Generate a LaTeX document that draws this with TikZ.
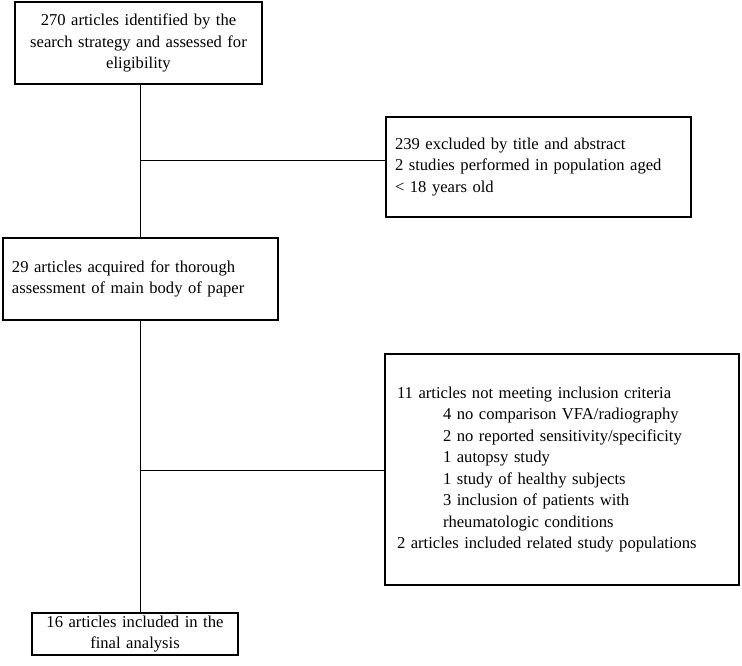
\documentclass[tikz,border=0pt]{standalone}
\usepackage{fontspec}
\setmainfont{Liberation Serif}
\begin{document}
\begin{tikzpicture}[x=1pt,y=-1pt,
    box/.style={draw,line width=1.4pt,inner xsep=8pt,inner ysep=0pt,
      font=\fontsize{16.6}{21.5}\selectfont},
    link/.style={draw,line width=0.8pt}]
  \useasboundingbox (0,0) rectangle (742,666);
  \node[box,text width=231pt,minimum height=82pt,align=center] (found) at (138.5,43)
    {270 articles identified by the\\ search strategy and assessed for\\ eligibility};
  \node[box,text width=287pt,minimum height=100pt,align=left,inner xsep=9pt] (excl1) at (538.5,167)
    {239 excluded by title and abstract\\ 2 studies performed in population aged\\ \textless{} 18 years old};
  \node[box,text width=257pt,minimum height=82pt,align=left,inner xsep=9pt] (acq) at (140.5,279)
    {29 articles acquired for thorough\\ assessment of main body of paper};
  \node[box,text width=330pt,minimum height=231pt,align=left,inner xsep=12pt] (excl2) at (562,469.5)
    {11 articles not meeting inclusion criteria\\
     \hspace*{46pt}4 no comparison VFA/radiography\\
     \hspace*{46pt}2 no reported sensitivity/specificity\\
     \hspace*{46pt}1 autopsy study\\
     \hspace*{46pt}1 study of healthy subjects\\
     \hspace*{46pt}3 inclusion of patients with\\
     \hspace*{46pt}rheumatologic conditions\\
     2 articles included related study populations};
  \node[box,text width=190pt,minimum height=42pt,align=center] (final) at (135,634)
    {16 articles included in the\\ final analysis};
  % branch points on the spine
  \coordinate (b1) at (140,160);
  \coordinate (b2) at (140,470);
  \draw[link] (found.south -| b1) -- (acq.north -| b1);
  \draw[link] (b1) -- (b1 -| excl1.west);
  \draw[link] (acq.south -| b2) -- (final.north -| b2);
  \draw[link] (b2) -- (b2 -| excl2.west);
\end{tikzpicture}
\end{document}
